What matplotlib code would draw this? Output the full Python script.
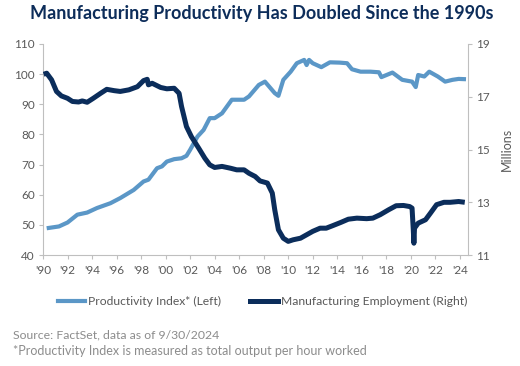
import matplotlib
matplotlib.use("Agg")
import matplotlib.pyplot as plt
from matplotlib.lines import Line2D

# Productivity index (left axis)
prod_years = [1990.3, 1991.3, 1992.0, 1992.8, 1993.6, 1994.4, 1995.5, 1996.3, 1997.4, 1998.2,
              1998.6, 1999.3, 1999.7, 2000.1, 2000.7, 2001.3, 2001.7, 2002.0, 2002.6, 2003.1,
              2003.6, 2004.0, 2004.6, 2005.4, 2006.4, 2006.8, 2007.6, 2008.1, 2008.9, 2009.2,
              2009.6, 2010.2, 2010.7, 2011.3, 2011.5, 2011.7, 2012.0, 2012.7, 2013.4, 2014.2,
              2014.8, 2015.2, 2015.9, 2016.7, 2017.4, 2017.6, 2018.5, 2019.3, 2020.1, 2020.4,
              2020.6, 2021.1, 2021.5, 2022.2, 2022.8, 2023.4, 2023.9, 2024.5]
prod_values = [48.9, 49.5, 50.8, 53.4, 54.1, 55.6, 57.2, 58.9, 61.6, 64.4,
               65.0, 68.8, 69.4, 71.0, 71.8, 72.1, 72.9, 74.9, 79.3, 81.5,
               85.4, 85.4, 87.0, 91.5, 91.5, 92.6, 96.4, 97.5, 93.7, 92.8,
               98.1, 100.8, 103.6, 104.7, 103.0, 104.7, 103.6, 102.3, 103.9, 103.8,
               103.6, 101.6, 100.8, 100.8, 100.6, 99.0, 100.5, 98.1, 97.5, 95.7,
               99.7, 99.2, 100.8, 99.2, 97.5, 98.1, 98.4, 98.3]

# Manufacturing employment, millions (right axis)
emp_years = [1990.05, 1990.3, 1990.7, 1991.1, 1991.5, 1992.0, 1992.4, 1992.9, 1993.2, 1993.6,
             1994.1, 1994.7, 1995.2, 1995.8, 1996.3, 1997.0, 1997.7, 1998.2, 1998.5, 1998.6,
             1998.9, 1999.6, 2000.1, 2000.7, 2001.1, 2001.3, 2001.7, 2002.1, 2002.7, 2003.2,
             2003.6, 2004.0, 2004.6, 2005.3, 2005.8, 2006.4, 2006.8, 2007.3, 2007.7, 2008.3,
             2008.7, 2008.9, 2009.2, 2009.6, 2010.0, 2010.4, 2011.0, 2011.5, 2012.0, 2012.6,
             2013.1, 2013.6, 2014.3, 2014.9, 2015.6, 2016.4, 2016.9, 2017.5, 2018.2, 2018.8,
             2019.4, 2019.9, 2020.1, 2020.2, 2020.25, 2020.3, 2020.6, 2021.2, 2021.6, 2022.1,
             2022.7, 2023.2, 2023.9, 2024.4]
emp_values = [17.85, 17.89, 17.64, 17.20, 17.03, 16.94, 16.82, 16.80, 16.84, 16.79,
              16.94, 17.13, 17.28, 17.23, 17.20, 17.26, 17.38, 17.61, 17.66, 17.45,
              17.51, 17.35, 17.30, 17.32, 17.13, 16.63, 15.87, 15.49, 15.05, 14.67,
              14.42, 14.32, 14.36, 14.29, 14.23, 14.23, 14.10, 13.98, 13.81, 13.73,
              13.35, 12.72, 11.96, 11.64, 11.52, 11.58, 11.64, 11.77, 11.90, 12.02,
              12.02, 12.11, 12.24, 12.36, 12.40, 12.38, 12.40, 12.53, 12.72, 12.87,
              12.88, 12.84, 12.78, 11.96, 11.45, 12.02, 12.21, 12.34, 12.59, 12.91,
              13.00, 13.00, 13.03, 13.00]

tick_years = list(range(1990, 2025, 2))
tick_labels = ["'" + str(y)[2:] for y in tick_years]
left_ticks = [40, 50, 60, 70, 80, 90, 100, 110]
right_ticks = [11, 13, 15, 17, 19]

LIGHT = "#5b97c7"
DARK = "#0b2d5b"
GREY = "#595959"
SPINE = "#bfbfbf"
FONT = ["Lato", "DejaVu Sans"]

plt.rcParams['font.family'] = FONT

fig = plt.figure(figsize=(5.2, 3.66), dpi=100)
ax = fig.add_axes([0.0827, 0.303, 0.817, 0.577])
ax2 = ax.twinx()

ax.plot(prod_years, prod_values, color=LIGHT, lw=3.0, solid_capstyle="butt", zorder=2)
ax2.plot(emp_years, emp_values, color=DARK, lw=3.6, solid_capstyle="butt", zorder=3)

ax.set_xlim(1990, 2024.65)
ax.set_ylim(40, 110)
ax2.set_ylim(11, 19)
ax.set_yticks(left_ticks)
ax2.set_yticks(right_ticks)
ax.set_xticks(tick_years)
ax.set_xticklabels(tick_labels)

for a in (ax, ax2):
    a.spines['top'].set_visible(False)
    for s in ('left', 'right', 'bottom'):
        a.spines[s].set_color(SPINE)
        a.spines[s].set_linewidth(0.8)
    a.tick_params(colors=GREY, labelsize=8.5, length=3, width=0.8, color=SPINE, pad=3)
ax.spines['right'].set_visible(False)
ax2.spines['left'].set_visible(False)
ax2.spines['bottom'].set_visible(False)
ax.tick_params(axis='x', pad=4)

ax2.set_ylabel("Millions", color=GREY, fontsize=9, labelpad=8)

fig.text(0.504, 0.962, "Manufacturing Productivity Has Doubled Since the 1990s",
         ha="center", va="center", fontsize=13.0, fontweight="bold", color="#0d2d5a")

handles = [Line2D([0], [0], color=LIGHT, lw=3.0),
           Line2D([0], [0], color=DARK, lw=3.6)]
fig.legend(handles, ["Productivity Index* (Left)", "Manufacturing Employment (Right)"],
           loc="center", bbox_to_anchor=(0.505, 0.175), ncol=2, frameon=False,
           fontsize=8.7, labelcolor=GREY, handlelength=2.3, handletextpad=0.25,
           columnspacing=2.4)

fig.text(0.025, 0.085, "Source: FactSet, data as of 9/30/2024", fontsize=8.8,
         color="#8c8c8c", va="center")
fig.text(0.025, 0.042, "*Productivity Index is measured as total output per hour worked",
         fontsize=9.0, color="#8c8c8c", va="center")

fig.savefig("out.png", dpi=100)
